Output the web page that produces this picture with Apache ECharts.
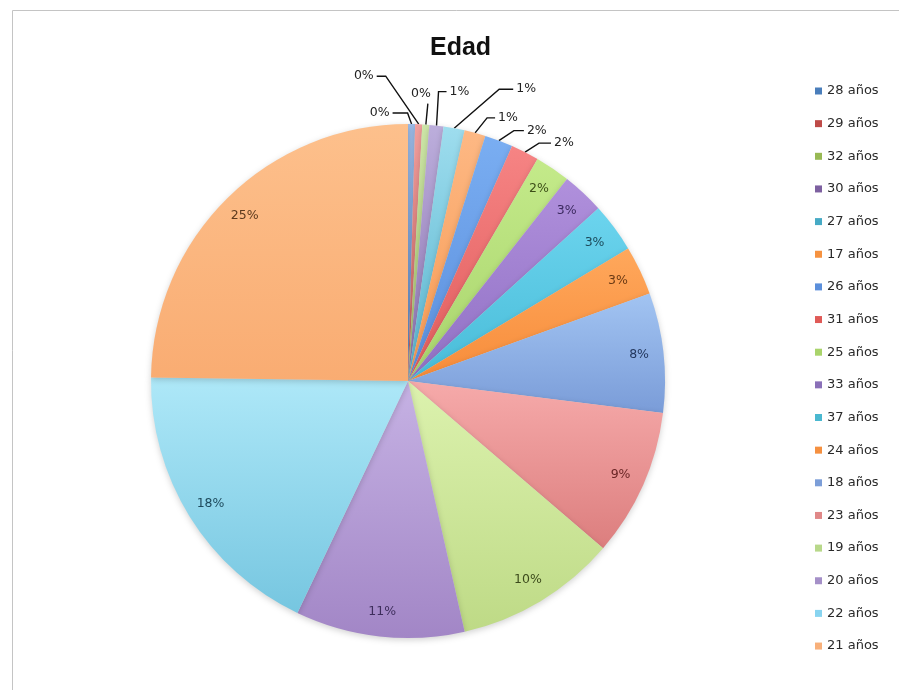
<!DOCTYPE html>
<html>
<head>
<meta charset="utf-8">
<script src="https://cdn.jsdelivr.net/npm/echarts@6/dist/echarts.min.js"></script>
<style>
  html, body { margin: 0; padding: 0; background: #ffffff; }
  #chart { width: 899px; height: 690px; }
</style>
</head>
<body>
<div id="chart"></div>
<script>
// Age groups, in drawing order (clockwise from 12 o'clock)
const categories = ['28 años', '29 años', '32 años', '30 años', '27 años', '17 años',
                    '26 años', '31 años', '25 años', '33 años', '37 años', '24 años',
                    '18 años', '23 años', '19 años', '20 años', '22 años', '21 años'];
// Number of people in each age group
const counts = [1, 1, 1, 2, 3, 3, 4, 4, 5, 6, 7, 7, 17, 21, 23, 24, 41, 56];

// Slice palette: legend swatch, light top of slice gradient, darker bottom, label ink
const legendColors = ['#4a7ebb', '#be4b48', '#98b954', '#7d60a0', '#46aac5', '#f69240',
                      '#5b8fdb', '#e05a57', '#a9d46b', '#8a70b8', '#4ab8d0', '#f59040',
                      '#7c9ed8', '#e08888', '#b8d88a', '#a590c8', '#88d4f0', '#f8b07a'];
const topColors = ['#9dbce8', '#f2a09e', '#cde6a8', '#bcaedc', '#9eddee', '#fdb884',
                   '#7aaef2', '#f68484', '#c4ea8a', '#b090dc', '#6cd4ee', '#ffa85c',
                   '#a2c4f2', '#f6aaaa', '#dcf2ae', '#c6b2e4', '#aee8f8', '#fdc08c'];
const bottomColors = ['#5f8ccc', '#c85c5a', '#a2c266', '#8c72b0', '#58b4ce', '#f79a52',
                      '#5a8edc', '#e05c5c', '#a8d46c', '#9070c4', '#48bcd8', '#f78c3a',
                      '#7a9cd8', '#dc7e7e', '#beda86', '#a286c6', '#76c6e0', '#f9ac72'];
const labelInk = ['#222222', '#222222', '#222222', '#222222', '#222222', '#222222',
                  '#222222', '#222222', '#3c4e18', '#3c2a60', '#1c4a5a', '#6a3a14',
                  '#24385e', '#6a2626', '#3c4a1c', '#3e2e5c', '#1e4a5c', '#5c3a1e'];

// Leader line shape for the outside labels of the thin slices:
// [knee offset x, knee offset y, horizontal tail length] from the slice rim
const leaderShapes = [[-4, -11, -15], [-33, -48, -9], [2, -21, 0], [2, -34, 8],
                      [45, -39, 14], [12, -15, 8], [15, -10, 10], [14, -9, 12]];

// Groups this size or larger carry their label inside the slice
const insideLabelMin = 5;

const total = counts.reduce((a, b) => a + b, 0);
const pct = v => Math.round(v / total * 100) + '%';

const FONT = 'DejaVu Sans';
const CENTER = [408, 381];
const RADIUS = 257;

const chart = echarts.init(document.getElementById('chart'), null, { renderer: 'canvas' });

const sliceData = categories.map((name, i) => {
  const outside = counts[i] < insideLabelMin;
  return {
    name: name,
    value: counts[i],
    itemStyle: {
      color: new echarts.graphic.LinearGradient(0, 0, 0, 1, [
        { offset: 0, color: topColors[i] },
        { offset: 1, color: bottomColors[i] }
      ])
    },
    label: { show: outside, position: 'outside', color: labelInk[i] },
    labelLine: { show: outside }
  };
});

// Transparent outer ring used only to seat the inner labels near the rim
const ringData = categories.map((name, i) => ({
  name: name,
  value: counts[i],
  itemStyle: { color: 'rgba(0,0,0,0)' },
  label: { show: counts[i] >= insideLabelMin, color: labelInk[i] }
}));

function placeOutsideLabel(params) {
  const shape = leaderShapes[params.dataIndex];
  if (!shape || !params.labelLinePoints) return {};
  const p0 = params.labelLinePoints[0];
  const knee = [p0[0] + shape[0], p0[1] + shape[1]];
  const tail = [knee[0] + shape[2], knee[1]];
  if (shape[2] === 0) {
    return {
      x: knee[0] - 7, y: knee[1] - 10, align: 'center', verticalAlign: 'middle',
      labelLinePoints: [p0, knee, tail]
    };
  }
  return {
    x: tail[0] + (shape[2] > 0 ? 3 : -3),
    y: tail[1],
    align: shape[2] > 0 ? 'left' : 'right',
    verticalAlign: 'middle',
    labelLinePoints: [p0, knee, tail]
  };
}

chart.setOption({
  animation: false,
  backgroundColor: '#ffffff',
  title: {
    text: 'Edad',
    left: 425,
    top: 31,
    textStyle: { fontFamily: 'Liberation Sans', fontWeight: 'bold', fontSize: 25, color: '#111111' }
  },
  legend: {
    orient: 'vertical',
    left: 810,
    top: 79,
    itemWidth: 7,
    itemHeight: 7,
    itemGap: 18.65,
    icon: 'rect',
    selectedMode: false,
    textStyle: { fontFamily: FONT, fontSize: 13, color: '#2a2a2a', lineHeight: 14 },
    data: categories.map((name, i) => ({ name: name, itemStyle: { color: legendColors[i] } }))
  },
  graphic: [{
    type: 'rect',
    shape: { x: 12.5, y: 10.5, width: 900, height: 700 },
    style: { fill: 'none', stroke: '#c4c4c4', lineWidth: 1 },
    silent: true
  }],
  series: [
    {
      type: 'pie',
      center: CENTER,
      radius: RADIUS,
      startAngle: 90,
      clockwise: true,
      avoidLabelOverlap: false,
      minShowLabelAngle: 0,
      itemStyle: {
        borderWidth: 0,
        shadowBlur: 6,
        shadowColor: 'rgba(0,0,0,0.18)',
        shadowOffsetY: 2
      },
      emphasis: { disabled: true },
      label: {
        fontFamily: FONT,
        fontSize: 12.5,
        formatter: p => pct(p.value)
      },
      labelLine: {
        length: 14,
        length2: 10,
        lineStyle: { color: '#111111', width: 1.4 }
      },
      labelLayout: placeOutsideLabel,
      data: sliceData
    },
    {
      type: 'pie',
      center: CENTER,
      radius: [RADIUS - 55, RADIUS],
      startAngle: 90,
      clockwise: true,
      silent: true,
      emphasis: { disabled: true },
      label: {
        position: 'inside',
        fontFamily: FONT,
        fontSize: 12.5,
        formatter: p => pct(p.value)
      },
      labelLine: { show: false },
      data: ringData
    }
  ]
});
</script>
</body>
</html>
